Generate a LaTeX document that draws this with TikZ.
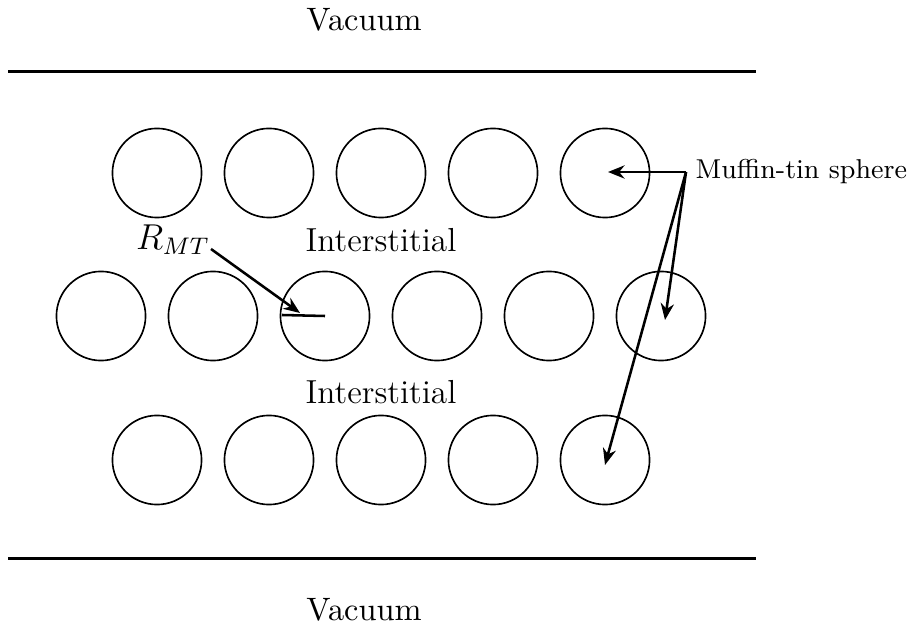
\documentclass[tikz,border=0pt]{standalone}
\usetikzlibrary{arrows.meta}
\begin{document}
\begin{tikzpicture}[x=0.3333pt,y=-0.3333pt,
  sphere/.style={draw,circle,line width=0.55pt,minimum size=29.7pt,inner sep=0pt},
  wall/.style={line width=1pt},
  pointer/.style={line width=0.85pt,-{Stealth[length=5.5pt,width=4.4pt]}},
  lbl/.style={inner sep=0pt}]
\useasboundingbox (0,0) rectangle (912,630);
% walls
\coordinate (wl1) at (8,72);   \coordinate (wr1) at (756,72);
\coordinate (wl2) at (8,558);  \coordinate (wr2) at (756,558);
\draw[wall] (wl1) -- (wr1);
\draw[wall] (wl2) -- (wr2);
\node[lbl,font=\fontsize{10.8}{13}\selectfont] (vac1) at (364,20) {Vacuum};
\node[lbl,font=\fontsize{10.8}{13}\selectfont] (vac2) at (364,610) {Vacuum};
% spheres
\foreach \i/\x in {1/157,2/269,3/381,4/493,5/605} {
  \node[sphere] (t\i) at (\x,173) {};
  \node[sphere] (b\i) at (\x,460) {};
}
\foreach \i/\x in {1/101,2/213,3/325,4/437,5/549,6/661} {
  \node[sphere] (m\i) at (\x,316) {};
}
\node[lbl,font=\fontsize{11.1}{13}\selectfont] (int1) at (381,240) {Interstitial};
\node[lbl,font=\fontsize{11.1}{13}\selectfont] (int2) at (381,392) {Interstitial};
% muffin-tin label
\node[lbl,anchor=west,font=\fontsize{9.1}{11}\selectfont] (mt) at (695,172) {Muffin-tin sphere};
\coordinate (mtp) at (686,172);
\coordinate (a1) at (608,172);
\coordinate (a2) at (665,320);
\coordinate (a3) at (605,465);
\draw[pointer] (mtp) -- (a1);
\draw[pointer] (mtp) -- (a2);
\draw[pointer] (mtp) -- (a3);
% radius
\node[lbl,font=\fontsize{12}{14}\selectfont] (rmt) at (173,240) {$R_{MT}$};
\coordinate (rs) at (211,249);
\coordinate (re) at (300,313);
\coordinate (r0) at (282,315);
\draw[pointer] (rs) -- (re);
\draw[line width=0.85pt] (r0) -- (m3.center);
\end{tikzpicture}
\end{document}
